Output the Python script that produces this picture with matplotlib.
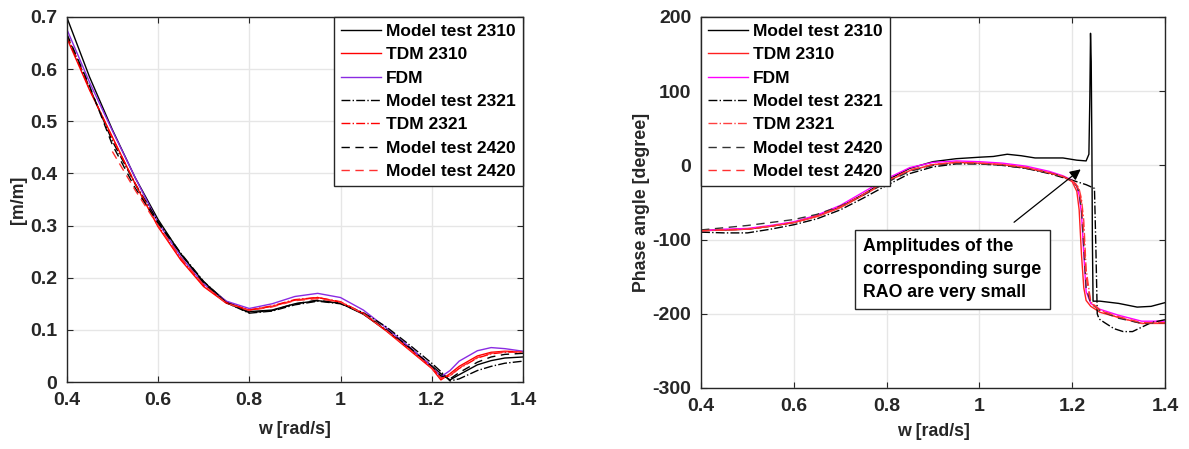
import matplotlib
matplotlib.use("Agg")
import matplotlib.pyplot as plt
import numpy as np

plt.rcParams['font.family'] = ['Liberation Sans', 'DejaVu Sans']

# ---------------- Left panel: amplitude RAO [m/m] ----------------
wA = [0.40, 0.45, 0.50, 0.55, 0.60, 0.65, 0.70, 0.75, 0.80, 0.85, 0.90, 0.95,
      1.00, 1.05, 1.10, 1.15, 1.20, 1.22, 1.24, 1.26, 1.30, 1.33, 1.36, 1.40]
ampMT2310 = [0.700, 0.585, 0.484, 0.392, 0.312, 0.245, 0.192, 0.154, 0.135, 0.138, 0.150, 0.156,
             0.151, 0.130, 0.099, 0.066, 0.031, 0.016, 0.004, 0.014, 0.033, 0.041, 0.046, 0.048]
ampTDM2310 = [0.660, 0.560, 0.470, 0.380, 0.298, 0.234, 0.183, 0.151, 0.138, 0.145, 0.157, 0.162,
              0.153, 0.131, 0.098, 0.062, 0.026, 0.004, 0.016, 0.030, 0.050, 0.057, 0.059, 0.058]
ampFDM = [0.677, 0.575, 0.482, 0.392, 0.306, 0.240, 0.188, 0.155, 0.141, 0.150, 0.164, 0.170,
          0.162, 0.138, 0.104, 0.068, 0.030, 0.010, 0.022, 0.040, 0.060, 0.066, 0.064, 0.059]
ampMT2321 = [0.665, 0.565, 0.462, 0.380, 0.308, 0.247, 0.193, 0.152, 0.132, 0.136, 0.148, 0.155,
             0.150, 0.133, 0.106, 0.072, 0.036, 0.020, 0.002, 0.006, 0.022, 0.030, 0.036, 0.040]
ampTDM2321 = [0.666, 0.562, 0.468, 0.381, 0.300, 0.236, 0.185, 0.152, 0.138, 0.146, 0.158, 0.162,
              0.154, 0.132, 0.100, 0.064, 0.028, 0.008, 0.012, 0.026, 0.046, 0.054, 0.057, 0.058]
wA2420 = [0.40, 0.45, 0.50, 0.55, 0.60, 0.65, 0.70, 0.75, 0.80, 0.85, 0.90, 0.95,
          1.00, 1.05, 1.10, 1.15, 1.20, 1.22, 1.24, 1.26, 1.30, 1.33, 1.36, 1.40]
ampMT2420 = [0.668, 0.568, 0.455, 0.372, 0.305, 0.246, 0.190, 0.152, 0.133, 0.137, 0.150, 0.157,
             0.151, 0.131, 0.101, 0.067, 0.030, 0.012, 0.006, 0.018, 0.038, 0.048, 0.053, 0.055]
wA2420r = [0.50, 0.55, 0.60, 0.65, 0.70, 0.75, 0.80, 0.85, 0.90, 0.95,
           1.00, 1.05, 1.10, 1.15, 1.20, 1.22, 1.24, 1.26, 1.30, 1.33, 1.36, 1.40]
ampMT2420r = [0.442, 0.368, 0.300, 0.238, 0.186, 0.151, 0.137, 0.144, 0.156, 0.160,
              0.153, 0.131, 0.099, 0.063, 0.027, 0.007, 0.012, 0.027, 0.047, 0.055, 0.058, 0.058]

# ---------------- Right panel: phase angle [degree] ----------------
wP = [0.40, 0.45, 0.50, 0.55, 0.60, 0.65, 0.70, 0.75, 0.80, 0.85, 0.90, 0.95,
      1.00, 1.05, 1.10, 1.15, 1.18, 1.20, 1.21, 1.215, 1.22, 1.225, 1.23, 1.24,
      1.26, 1.30, 1.35, 1.40]
phTDM2310 = [-88, -87, -86, -82, -77, -69, -57, -40, -22, -7, 1, 4,
             3, 1, -3, -10, -15, -22, -35, -60, -120, -165, -182, -190,
             -198, -205, -213, -213]
phFDM = [-88, -86, -85, -81, -76, -67, -54, -36, -18, -3, 4, 6,
         5, 3, -1, -8, -14, -20, -28, -40, -65, -120, -170, -186,
         -194, -202, -210, -210]
phTDM2321 = [-88, -87, -86, -82, -77, -69, -57, -40, -22, -7, 1, 4,
             3, 1, -3, -10, -15, -21, -26, -32, -45, -75, -140, -184,
             -195, -205, -213, -212]
phMT2420r = [-88, -87, -86, -82, -77, -68, -56, -39, -21, -6, 1, 4,
             3, 1, -3, -10, -15, -21, -27, -35, -50, -90, -150, -185,
             -196, -204, -212, -212]
phMT2420 = [-87, -84, -81, -77, -73, -66, -55, -40, -23, -8, 0, 3,
            2, 0, -4, -10, -15, -21, -28, -38, -60, -110, -165, -186,
            -196, -206, -213, -212]

wP2310 = [0.40, 0.45, 0.50, 0.55, 0.60, 0.65, 0.70, 0.75, 0.80, 0.85, 0.90, 0.95,
          1.00, 1.03, 1.06, 1.09, 1.12, 1.15, 1.18, 1.21, 1.23, 1.236, 1.238, 1.2395,
          1.241, 1.2425, 1.2435, 1.245, 1.26, 1.30, 1.34, 1.37, 1.40]
phMT2310 = [-88, -87, -86, -82, -77, -68, -56, -39, -20, -4, 5, 9,
            11, 12, 15, 13, 10, 10, 10, 7, 6, 15, 90, 178,
            140, 20, -100, -183, -183, -186, -191, -190, -185]

wP2321 = [0.40, 0.45, 0.50, 0.55, 0.60, 0.65, 0.70, 0.75, 0.80, 0.85, 0.90, 0.95,
          1.00, 1.05, 1.10, 1.15, 1.20, 1.23, 1.248, 1.251, 1.254, 1.258, 1.27,
          1.29, 1.31, 1.33, 1.35, 1.37, 1.40]
phMT2321 = [-90, -91, -91, -86, -80, -72, -60, -44, -27, -11, -2, 2,
            2, 0, -4, -11, -20, -26, -31, -110, -200, -207, -212,
            -220, -224, -224, -218, -212, -208]

XTICKS = [0.4, 0.6, 0.8, 1.0, 1.2, 1.4]
XTICKLABELS = ['0.4', '0.6', '0.8', '1', '1.2', '1.4']
LEG_LABELS = ['Model test 2310', 'TDM 2310', 'FDM', 'Model test 2321',
              'TDM 2321', 'Model test 2420', 'Model test 2420']
ANNOT = 'Amplitudes of the\ncorresponding surge\nRAO are very small'

DARK = '#262626'

fig = plt.figure(figsize=(11.89, 4.49), dpi=100)
axL = fig.add_axes([0.0561, 0.1492, 0.3838, 0.8130])
axR = fig.add_axes([0.5896, 0.1359, 0.3902, 0.8263])

def style(ax):
    ax.grid(True, color='#e6e6e6', linewidth=1.0)
    ax.set_axisbelow(True)
    for s in ax.spines.values():
        s.set_color(DARK)
        s.set_linewidth(1.0)
    ax.tick_params(direction='in', top=True, right=True, length=4, width=0.8,
                   colors=DARK, labelsize=14, pad=7)
    ax.set_xlim(0.4, 1.4)
    ax.set_xticks(XTICKS)
    ax.set_xticklabels(XTICKLABELS, fontweight='bold', color=DARK, fontsize=14)

lw = 1.0
# left
axL.plot(wA, ampMT2310, color='black', ls='-', lw=lw, label=LEG_LABELS[0])
axL.plot(wA, ampTDM2310, color='#ff0000', ls='-', lw=lw, label=LEG_LABELS[1])
axL.plot(wA, ampFDM, color='#8a2be2', ls='-', lw=lw, label=LEG_LABELS[2])
axL.plot(wA, ampMT2321, color='black', ls='-.', lw=lw, label=LEG_LABELS[3])
axL.plot(wA, ampTDM2321, color='#ff0000', ls='-.', lw=lw, label=LEG_LABELS[4])
axL.plot(wA2420, ampMT2420, color='black', ls=(0, (6, 4)), lw=lw, label=LEG_LABELS[5])
axL.plot(wA2420r, ampMT2420r, color='#ff3030', ls=(0, (6, 4)), lw=lw, label=LEG_LABELS[6])
style(axL)
axL.set_ylim(0, 0.7)
axL.set_yticks([0, 0.1, 0.2, 0.3, 0.4, 0.5, 0.6, 0.7])
axL.set_yticklabels(['0', '0.1', '0.2', '0.3', '0.4', '0.5', '0.6', '0.7'],
                    fontweight='bold', color=DARK, fontsize=14)
axL.set_xlabel('w [rad/s]', fontsize=12.8, fontweight='bold', color=DARK, labelpad=9)
axL.set_ylabel('[m/m]', fontsize=12.8, fontweight='bold', color=DARK, labelpad=2)
legL = axL.legend(loc='upper right', prop={'weight': 'bold', 'size': 12.5},
                  frameon=True, fancybox=False, edgecolor=DARK, framealpha=1,
                  borderaxespad=0, handlelength=2.3, handletextpad=0.3,
                  labelspacing=0.47, borderpad=0.4)
legL.get_frame().set_linewidth(1.0)

# right
axR.plot(wP2310, phMT2310, color='black', ls='-', lw=lw, label=LEG_LABELS[0])
axR.plot(wP, phTDM2310, color='#ff2020', ls='-', lw=lw, label=LEG_LABELS[1])
axR.plot(wP, phFDM, color='#ff00ff', ls='-', lw=lw, label=LEG_LABELS[2])
axR.plot(wP2321, phMT2321, color='black', ls='-.', lw=lw, label=LEG_LABELS[3])
axR.plot(wP, phTDM2321, color='#ff4040', ls='-.', lw=lw, label=LEG_LABELS[4])
axR.plot(wP, phMT2420, color='#333333', ls=(0, (6, 4)), lw=lw, label=LEG_LABELS[5])
axR.plot(wP, phMT2420r, color='#ff3030', ls=(0, (6, 4)), lw=lw, label=LEG_LABELS[6])
style(axR)
axR.set_ylim(-300, 200)
axR.set_yticks([-300, -200, -100, 0, 100, 200])
axR.set_yticklabels(['-300', '-200', '-100', '0', '100', '200'],
                    fontweight='bold', color=DARK, fontsize=14)
axR.set_xlabel('w [rad/s]', fontsize=12.8, fontweight='bold', color=DARK, labelpad=6)
axR.set_ylabel('Phase angle [degree]', fontsize=12.8, fontweight='bold', color=DARK, labelpad=2)
legR = axR.legend(loc='upper left', prop={'weight': 'bold', 'size': 12.5},
                  frameon=True, fancybox=False, edgecolor=DARK, framealpha=1,
                  borderaxespad=0, handlelength=2.3, handletextpad=0.3,
                  labelspacing=0.47, borderpad=0.4)
legR.get_frame().set_linewidth(1.0)

axR.annotate('', xy=(1.223, -3), xytext=(1.07, -79),
             arrowprops=dict(arrowstyle='-|>', color='black', lw=0.9,
                             mutation_scale=16))
axR.text(0.750, -98, ANNOT, fontsize=12.8, fontweight='bold', color='black',
         ha='left', va='top', linespacing=1.45,
         bbox=dict(boxstyle='square,pad=0.45', fc='white', ec=DARK, lw=1.0))

fig.savefig('out.png', dpi=100)
